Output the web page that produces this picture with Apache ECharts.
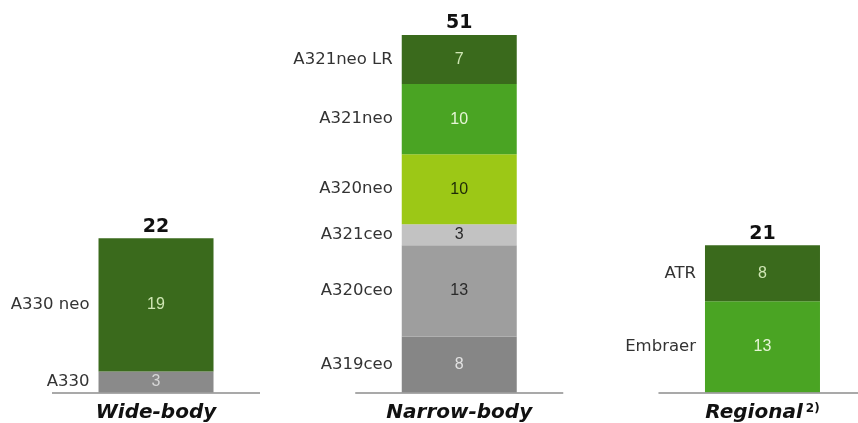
<!DOCTYPE html>
<html>
<head>
<meta charset="utf-8">
<script src="https://cdn.jsdelivr.net/npm/echarts@6/dist/echarts.min.js"></script>
<style>
  html, body { margin: 0; padding: 0; background: #ffffff; }
  #chart { width: 858px; height: 423px; }
</style>
</head>
<body>
<div id="chart"></div>
<script>
// Fleet by segment (aircraft count), bottom to top within each bar
const categories = ['Wide-body', 'Narrow-body', 'Regional'];
const wideBodyTypes = ['A330', 'A330 neo'];
const wideBodyValues = [3, 19];
const narrowBodyTypes = ['A319ceo', 'A320ceo', 'A321ceo', 'A320neo', 'A321neo', 'A321neo LR'];
const narrowBodyValues = [8, 13, 3, 10, 10, 7];
const regionalTypes = ['Embraer', 'ATR'];
const regionalValues = [13, 8];

const groups = [
  { types: wideBodyTypes, values: wideBodyValues },
  { types: narrowBodyTypes, values: narrowBodyValues },
  { types: regionalTypes, values: regionalValues }
];

// Fill and label colour for each aircraft type
const typeStyle = {
  'A330':       { fill: '#8a8a8a', text: '#d6d6d6' },
  'A330 neo':   { fill: '#3a6a1c', text: '#cfe6b4' },
  'A319ceo':    { fill: '#868686', text: '#e2e2e2' },
  'A320ceo':    { fill: '#9e9e9e', text: '#2a2a2a' },
  'A321ceo':    { fill: '#c2c2c2', text: '#2a2a2a' },
  'A320neo':    { fill: '#9cc816', text: '#1e2a08' },
  'A321neo':    { fill: '#4aa423', text: '#e6f5d6' },
  'A321neo LR': { fill: '#3a6a1c', text: '#cfe6b4' },
  'Embraer':    { fill: '#4aa423', text: '#e6f5d6' },
  'ATR':        { fill: '#3a6a1c', text: '#cfe6b4' }
};

const BAR_WIDTH = 115;
const NAME_FONT = '"DejaVu Sans", Verdana, sans-serif';
const VALUE_FONT = '"Liberation Sans", Arial, sans-serif';

const series = [];
const nameLabels = [];
const totals = [];

groups.forEach((g, ci) => {
  let base = 0;
  g.types.forEach((type, si) => {
    const v = g.values[si];
    const data = categories.map((_, k) => (k === ci ? v : '-'));
    const st = typeStyle[type];
    series.push({
      type: 'bar',
      name: type,
      stack: 'fleet',
      barWidth: BAR_WIDTH,
      data: data,
      itemStyle: { color: st.fill },
      label: {
        show: true,
        position: 'inside',
        color: st.text,
        fontSize: 16,
        fontFamily: VALUE_FONT
      },
      silent: true,
      z: 2
    });
    nameLabels.push({ value: [ci, base + v / 2], name: type });
    base += v;
  });
  totals.push(base);
});

// Type names to the left of each segment
series.push({
  type: 'scatter',
  data: nameLabels,
  symbolSize: 2,
  itemStyle: { color: 'rgba(0,0,0,0)', opacity: 1 },
  label: {
    show: true,
    position: 'left',
    distance: BAR_WIDTH / 2 + 8,
    formatter: p => p.name,
    color: '#333333',
    fontSize: 16.5,
    fontFamily: NAME_FONT
  },
  silent: true,
  z: 3
});

// Totals above each bar
series.push({
  type: 'scatter',
  data: totals.map((t, i) => [i, t]),
  symbolSize: 2,
  itemStyle: { color: 'rgba(0,0,0,0)', opacity: 1 },
  label: {
    show: true,
    position: 'top',
    distance: 1,
    formatter: p => String(p.value[1]),
    color: '#111111',
    fontSize: 19,
    fontWeight: 'bold',
    fontFamily: NAME_FONT
  },
  silent: true,
  z: 3
});

// Short baseline under each bar
series.push({
  type: 'custom',
  data: categories.map((_, i) => [i, 0]),
  renderItem: (params, api) => {
    const p = api.coord([api.value(0), 0]);
    const half = api.size([1, 0])[0] * 0.343;
    return {
      type: 'line',
      shape: { x1: p[0] - half, y1: p[1] + 0.5, x2: p[0] + half, y2: p[1] + 0.5 },
      style: { stroke: '#8c8c8c', lineWidth: 1.5 }
    };
  },
  silent: true,
  z: 4
});

const chart = echarts.init(document.getElementById('chart'), null, { renderer: 'canvas' });
chart.setOption({
  animation: false,
  backgroundColor: '#ffffff',
  grid: {
    left: 4.4,
    right: -56.1,
    top: 35,
    bottom: 30.5,
    containLabel: false,
    outerBoundsMode: 'none'
  },
  xAxis: {
    type: 'category',
    data: categories,
    axisLine: { show: false },
    axisTick: { show: false },
    axisLabel: {
      margin: 10,
      formatter: v => (v === 'Regional' ? '{c|' + v + '}{s|2)}' : '{c|' + v + '}'),
      rich: {
        c: {
          fontSize: 20,
          fontWeight: 'bold',
          fontStyle: 'italic',
          color: '#111111',
          fontFamily: NAME_FONT
        },
        s: {
          fontSize: 12,
          fontWeight: 'bold',
          color: '#111111',
          fontFamily: NAME_FONT,
          verticalAlign: 'top',
          padding: [0, 0, 9, 3]
        }
      }
    }
  },
  yAxis: {
    type: 'value',
    min: 0,
    max: 51,
    show: false,
    splitLine: { show: false }
  },
  series: series
});
</script>
</body>
</html>
